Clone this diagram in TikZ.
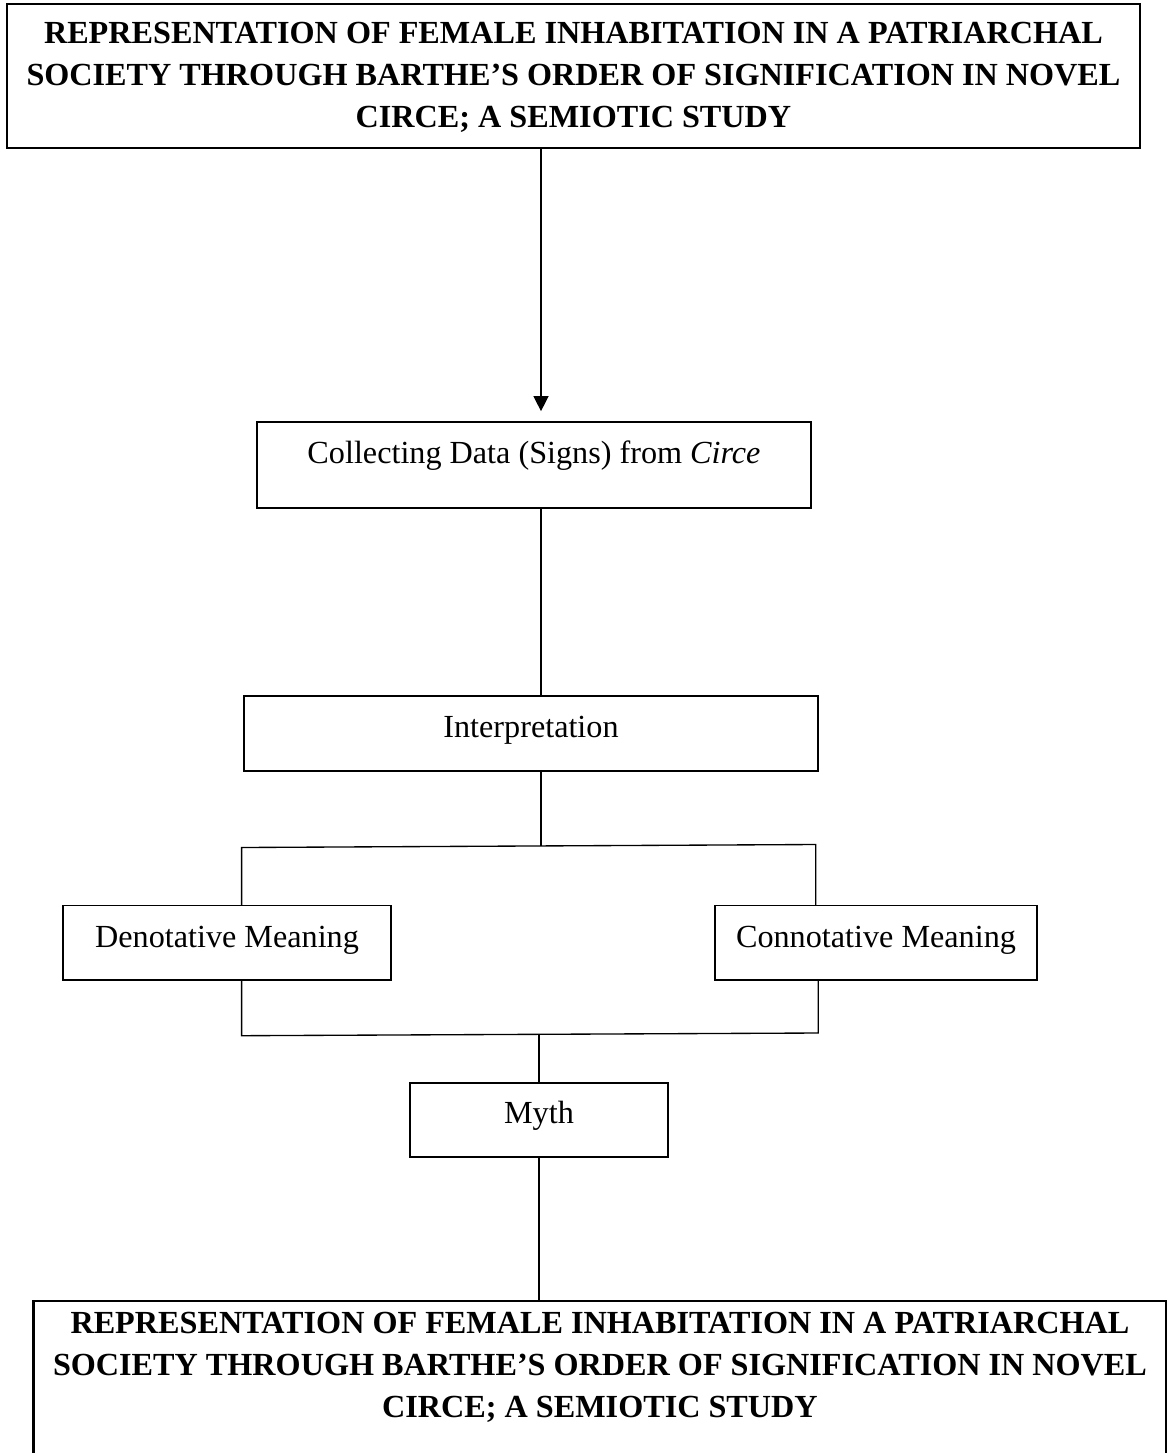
\documentclass[tikz,border=0pt]{standalone}
\usepackage{fontspec}
\setmainfont{Liberation Serif}
\usetikzlibrary{arrows.meta}
\begin{document}
\begin{tikzpicture}[x=0.41pt,y=-0.41pt,line width=0.55pt,draw=black!100]
	\fontsize{13.2pt}{17.22pt}\selectfont
	\tikzstyle{head-box}=[draw,line width=1pt,align=center,font=\fontsize{13.2pt}{17.22pt}\selectfont\bfseries,inner xsep=0pt,anchor=north,minimum width=464.5pt]
	\tikzstyle{step-box}=[draw,line width=0.7pt,anchor=base,inner ysep=0pt,text depth=13.94pt,text height=16.4pt]
	
	\useasboundingbox (0,0) rectangle (1166,1453);
	
	\def \title{REPRESENTATION OF FEMALE INHABITATION IN A PATRIARCHAL\\ SOCIETY THROUGH BARTHE'S ORDER OF SIGNIFICATION IN NOVEL\\ CIRCE; A SEMIOTIC STUDY}
	\def \rowmeaning{947}
	
	\node[head-box,inner ysep=7.25pt,text depth=1.35pt] (opening) at (573.5,3) {\title};
	
	\node[step-box,minimum width=227.14pt,text height=16.81pt,text depth=18.45pt] (collect) at (534,463) {Collecting Data (Signs) from \textit{Circe}};
	\node[step-box,minimum width=235.34pt,text height=16.81pt] (interp) at (531,737) {Interpretation};
	
	\node[step-box,minimum width=134.48pt,text height=16.97pt,text depth=13.45pt] (denot) at (227,\rowmeaning) {Denotative Meaning};
	\node[step-box,minimum width=132.02pt,text height=16.97pt,text depth=13.45pt] (connot) at (876,\rowmeaning) {Connotative Meaning};
	
	\node[step-box,minimum width=105.78pt] (myth) at (539,1123) {Myth};
	
	\node[head-box,inner ysep=4.4pt,text depth=40pt] (closing) at (600,1300) {\title};
	
	\coordinate (split) at (541,846);
	\coordinate (split-l) at (241.6,847.5);
	\coordinate (split-r) at (815.7,844.5);
	\coordinate (join) at (539,1034.5);
	\coordinate (join-l) at (241.6,1035.7);
	\coordinate (join-r) at (818.3,1033);
	
	\draw[-{Triangle[length=6.2pt,width=6.2pt]},shorten >=4.1pt] (opening.south -| split) -- (collect.north -| split);
	\draw (collect.south -| split) -- (interp.north -| split);
	\draw (interp.south -| split) -- (split);
	\draw (split-l |- denot.north) -- (split-l) -- (split-r) -- (split-r |- connot.north);
	\draw (join-l |- denot.south) -- (join-l) -- (join-r) -- (join-r |- connot.south);
	\draw (join) -- (myth.north -| join);
	\draw (myth.south -| join) -- (closing.north -| join);
\end{tikzpicture}
\end{document}
